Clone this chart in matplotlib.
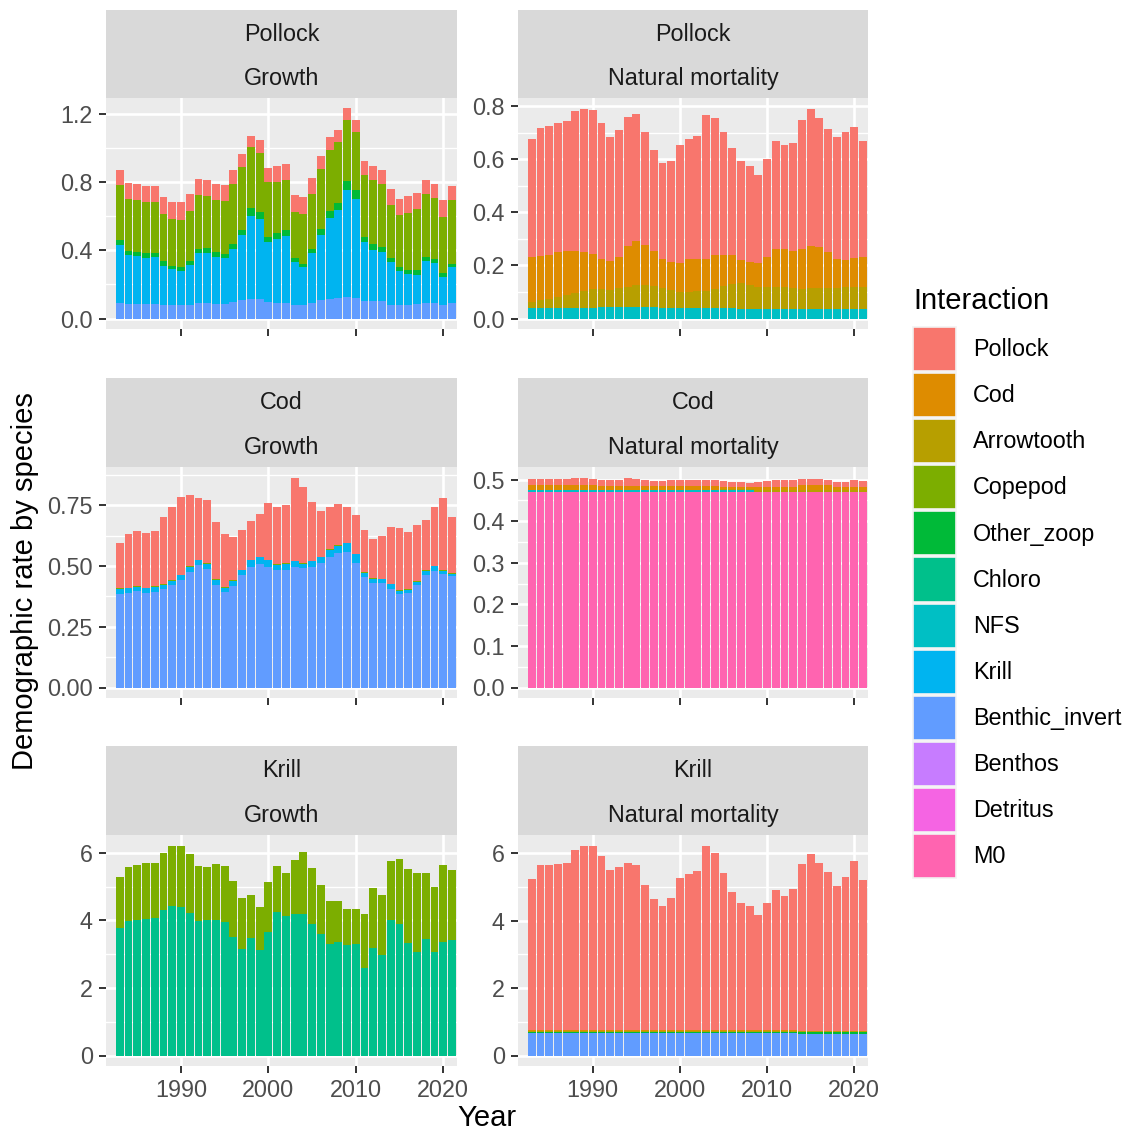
import numpy as np
import matplotlib.pyplot as plt
from matplotlib.patches import Patch

plt.rcParams['font.family'] = ['Liberation Sans', 'DejaVu Sans']

years = np.arange(1983, 2022)

interactions = ['Pollock', 'Cod', 'Arrowtooth', 'Copepod', 'Other_zoop', 'Chloro',
                'NFS', 'Krill', 'Benthic_invert', 'Benthos', 'Detritus', 'M0']
palette = ['#F8766D', '#DE8C00', '#B79F00', '#7CAE00', '#00BA38', '#00C08B',
           '#00BFC4', '#00B4F0', '#619CFF', '#C77CFF', '#F564E3', '#FF64B0']

# Pollock growth
pg_benthic_invert = [0.093, 0.087, 0.087, 0.087, 0.087, 0.077, 0.077, 0.077, 0.081, 0.093,
                     0.091, 0.087, 0.087, 0.099, 0.110, 0.116, 0.112, 0.099, 0.093, 0.093,
                     0.081, 0.081, 0.093, 0.110, 0.116, 0.120, 0.128, 0.122, 0.104, 0.104,
                     0.100, 0.081, 0.077, 0.081, 0.087, 0.093, 0.091, 0.081, 0.091]
pg_krill = [0.337, 0.284, 0.278, 0.268, 0.272, 0.234, 0.213, 0.205, 0.232, 0.290,
            0.294, 0.276, 0.268, 0.309, 0.378, 0.485, 0.473, 0.349, 0.374, 0.390,
            0.250, 0.221, 0.290, 0.382, 0.473, 0.516, 0.625, 0.581, 0.343, 0.299,
            0.288, 0.250, 0.205, 0.183, 0.171, 0.244, 0.234, 0.165, 0.211]
pg_other_zoop = [0.030, 0.028, 0.026, 0.028, 0.024, 0.024, 0.016, 0.020, 0.024, 0.028,
                 0.028, 0.026, 0.024, 0.032, 0.033, 0.047, 0.039, 0.030, 0.033, 0.035,
                 0.026, 0.020, 0.028, 0.033, 0.043, 0.045, 0.057, 0.053, 0.033, 0.033,
                 0.032, 0.026, 0.022, 0.020, 0.026, 0.024, 0.024, 0.020, 0.020]
pg_copepod = [0.325, 0.305, 0.305, 0.303, 0.303, 0.278, 0.280, 0.278, 0.296, 0.317,
              0.307, 0.305, 0.313, 0.351, 0.372, 0.359, 0.351, 0.323, 0.305, 0.296,
              0.266, 0.294, 0.323, 0.351, 0.359, 0.355, 0.359, 0.339, 0.366, 0.380,
              0.368, 0.311, 0.303, 0.337, 0.360, 0.370, 0.357, 0.331, 0.372]
pg_pollock = [0.087, 0.095, 0.095, 0.093, 0.093, 0.102, 0.099, 0.104, 0.099, 0.091,
              0.091, 0.095, 0.093, 0.083, 0.073, 0.067, 0.073, 0.085, 0.091, 0.091,
              0.104, 0.100, 0.093, 0.077, 0.073, 0.073, 0.065, 0.071, 0.081, 0.079,
              0.083, 0.093, 0.097, 0.099, 0.091, 0.083, 0.085, 0.099, 0.087]

# Pollock natural mortality
pm_nfs = [0.040, 0.040, 0.040, 0.040, 0.040, 0.040, 0.040, 0.040, 0.042, 0.042,
          0.042, 0.042, 0.042, 0.042, 0.042, 0.038, 0.038, 0.038, 0.038, 0.038,
          0.038, 0.038, 0.038, 0.038, 0.034, 0.034, 0.034, 0.034, 0.034, 0.034,
          0.034, 0.034, 0.034, 0.034, 0.034, 0.034, 0.034, 0.034, 0.034]
pm_arrowtooth = [0.021, 0.028, 0.033, 0.041, 0.050, 0.055, 0.062, 0.070, 0.069, 0.067,
                 0.072, 0.078, 0.083, 0.083, 0.079, 0.076, 0.068, 0.063, 0.063, 0.067,
                 0.067, 0.072, 0.083, 0.091, 0.099, 0.092, 0.086, 0.085, 0.084, 0.084,
                 0.080, 0.077, 0.080, 0.081, 0.080, 0.080, 0.084, 0.085, 0.084]
pm_cod = [0.170, 0.167, 0.165, 0.168, 0.165, 0.160, 0.147, 0.133, 0.114, 0.108,
          0.116, 0.154, 0.167, 0.153, 0.132, 0.112, 0.105, 0.108, 0.123, 0.120,
          0.121, 0.129, 0.120, 0.111, 0.089, 0.086, 0.089, 0.112, 0.144, 0.142,
          0.140, 0.152, 0.160, 0.154, 0.135, 0.112, 0.102, 0.109, 0.112]
pm_pollock = [0.445, 0.482, 0.486, 0.487, 0.488, 0.527, 0.542, 0.542, 0.511, 0.466,
              0.479, 0.486, 0.480, 0.424, 0.380, 0.359, 0.383, 0.445, 0.454, 0.464,
              0.539, 0.518, 0.461, 0.402, 0.370, 0.361, 0.332, 0.369, 0.405, 0.392,
              0.407, 0.483, 0.515, 0.488, 0.464, 0.457, 0.483, 0.494, 0.440]

# Cod growth
cg_benthic_invert = [0.386, 0.390, 0.398, 0.390, 0.394, 0.406, 0.422, 0.443, 0.476, 0.504,
                     0.489, 0.423, 0.394, 0.419, 0.461, 0.497, 0.507, 0.497, 0.482, 0.485,
                     0.497, 0.492, 0.497, 0.511, 0.535, 0.552, 0.556, 0.514, 0.453, 0.431,
                     0.430, 0.406, 0.383, 0.390, 0.423, 0.464, 0.481, 0.468, 0.457]
cg_krill = [0.019, 0.018, 0.015, 0.018, 0.019, 0.017, 0.017, 0.018, 0.019, 0.019,
            0.020, 0.020, 0.015, 0.019, 0.021, 0.026, 0.028, 0.026, 0.023, 0.024,
            0.022, 0.017, 0.022, 0.024, 0.030, 0.030, 0.037, 0.034, 0.019, 0.015,
            0.015, 0.018, 0.014, 0.011, 0.013, 0.015, 0.017, 0.012, 0.012]
cg_copepod = [0.003, 0.003, 0.003, 0.003, 0.003, 0.003, 0.003, 0.003, 0.003, 0.003,
              0.003, 0.003, 0.003, 0.003, 0.003, 0.003, 0.003, 0.003, 0.003, 0.003,
              0.003, 0.003, 0.003, 0.003, 0.003, 0.003, 0.003, 0.003, 0.003, 0.003,
              0.003, 0.003, 0.003, 0.003, 0.003, 0.003, 0.003, 0.003, 0.003]
cg_pollock = [0.187, 0.221, 0.228, 0.226, 0.228, 0.276, 0.302, 0.320, 0.296, 0.254,
              0.258, 0.235, 0.221, 0.180, 0.162, 0.158, 0.177, 0.232, 0.233, 0.240,
              0.342, 0.313, 0.240, 0.190, 0.173, 0.170, 0.148, 0.159, 0.174, 0.163,
              0.177, 0.235, 0.256, 0.234, 0.228, 0.207, 0.240, 0.295, 0.230]

# Cod natural mortality
cm_m0 = [0.470] * 39
cm_nfs = [0.004, 0.004, 0.004, 0.004, 0.004, 0.004, 0.004, 0.004, 0.004, 0.004,
          0.004, 0.004, 0.004, 0.004, 0.004, 0.004, 0.004, 0.004, 0.004, 0.004,
          0.004, 0.004, 0.004, 0.004, 0.004, 0.004, 0.001, 0.001, 0.001, 0.001,
          0.001, 0.001, 0.001, 0.001, 0.001, 0.001, 0.001, 0.001, 0.001]
cm_arrowtooth = [0.001, 0.001, 0.001, 0.001, 0.001, 0.001, 0.001, 0.001, 0.001, 0.001,
                 0.001, 0.001, 0.001, 0.001, 0.001, 0.001, 0.001, 0.001, 0.001, 0.001,
                 0.001, 0.001, 0.003, 0.003, 0.003, 0.003, 0.003, 0.003, 0.003, 0.003,
                 0.003, 0.003, 0.003, 0.003, 0.003, 0.003, 0.003, 0.003, 0.003]
cm_cod = [0.013, 0.013, 0.013, 0.013, 0.013, 0.013, 0.013, 0.013, 0.010, 0.010,
          0.010, 0.010, 0.010, 0.010, 0.010, 0.010, 0.010, 0.010, 0.010, 0.010,
          0.010, 0.010, 0.005, 0.005, 0.005, 0.005, 0.008, 0.008, 0.008, 0.008,
          0.008, 0.012, 0.012, 0.012, 0.012, 0.008, 0.008, 0.008, 0.008]
cm_pollock = [0.014, 0.014, 0.014, 0.014, 0.014, 0.017, 0.017, 0.014, 0.014, 0.013,
              0.014, 0.019, 0.017, 0.013, 0.011, 0.011, 0.013, 0.014, 0.014, 0.015,
              0.014, 0.014, 0.015, 0.013, 0.012, 0.010, 0.012, 0.015, 0.016, 0.016,
              0.016, 0.015, 0.016, 0.016, 0.013, 0.013, 0.013, 0.016, 0.015]

# Krill growth
kg_chloro = [3.79, 3.99, 4.02, 4.04, 4.06, 4.30, 4.43, 4.41, 4.21, 3.99,
             4.01, 4.02, 3.95, 3.51, 3.14, 3.48, 3.13, 3.67, 4.26, 4.14,
             4.20, 4.20, 3.89, 3.59, 3.30, 3.36, 3.26, 3.29, 2.59, 3.19,
             2.98, 4.01, 3.89, 3.34, 3.07, 3.44, 3.06, 3.37, 3.41]
kg_copepod = [1.50, 1.59, 1.62, 1.65, 1.63, 1.70, 1.79, 1.81, 1.77, 1.61,
              1.56, 1.64, 1.67, 1.65, 1.53, 1.28, 1.28, 1.47, 1.35, 1.28,
              1.58, 1.82, 1.65, 1.46, 1.28, 1.21, 1.07, 1.06, 1.61, 1.76,
              1.78, 1.75, 1.92, 2.17, 2.33, 1.98, 1.93, 2.28, 2.09]

# Krill natural mortality
km_benthic_invert = [0.68, 0.68, 0.68, 0.68, 0.68, 0.68, 0.68, 0.68, 0.68, 0.68,
                     0.68, 0.68, 0.68, 0.68, 0.68, 0.68, 0.68, 0.68, 0.68, 0.68,
                     0.68, 0.68, 0.68, 0.68, 0.68, 0.68, 0.68, 0.68, 0.68, 0.68,
                     0.68, 0.65, 0.65, 0.65, 0.65, 0.65, 0.65, 0.65, 0.65]
km_other_zoop = [0.03, 0.03, 0.03, 0.03, 0.03, 0.03, 0.03, 0.03, 0.03, 0.03,
                 0.03, 0.03, 0.03, 0.03, 0.03, 0.03, 0.03, 0.03, 0.03, 0.03,
                 0.03, 0.03, 0.03, 0.03, 0.03, 0.03, 0.03, 0.03, 0.03, 0.03,
                 0.03, 0.05, 0.05, 0.05, 0.05, 0.05, 0.05, 0.05, 0.05]
km_arrowtooth = [0.02] * 39
km_cod = [0.02] * 39
km_pollock = [4.50, 4.89, 4.91, 4.93, 4.96, 5.35, 5.48, 5.48, 5.16, 4.74,
              4.85, 4.95, 4.91, 4.32, 3.88, 3.68, 3.92, 4.52, 4.62, 4.72,
              5.47, 5.27, 4.66, 4.09, 3.78, 3.68, 3.41, 3.77, 4.17, 3.99,
              4.19, 4.94, 5.24, 4.96, 4.71, 4.28, 4.55, 5.03, 4.48]

panels = [
    ('Pollock', 'Growth',
     {'Pollock': pg_pollock, 'Copepod': pg_copepod, 'Other_zoop': pg_other_zoop,
      'Krill': pg_krill, 'Benthic_invert': pg_benthic_invert},
     [0, 0.4, 0.8, 1.2], ['0.0', '0.4', '0.8', '1.2']),
    ('Pollock', 'Natural mortality',
     {'Pollock': pm_pollock, 'Cod': pm_cod, 'Arrowtooth': pm_arrowtooth, 'NFS': pm_nfs},
     [0, 0.2, 0.4, 0.6, 0.8], ['0.0', '0.2', '0.4', '0.6', '0.8']),
    ('Cod', 'Growth',
     {'Pollock': cg_pollock, 'Copepod': cg_copepod, 'Krill': cg_krill,
      'Benthic_invert': cg_benthic_invert},
     [0, 0.25, 0.5, 0.75], ['0.00', '0.25', '0.50', '0.75']),
    ('Cod', 'Natural mortality',
     {'Pollock': cm_pollock, 'Cod': cm_cod, 'Arrowtooth': cm_arrowtooth,
      'NFS': cm_nfs, 'M0': cm_m0},
     [0, 0.1, 0.2, 0.3, 0.4, 0.5], ['0.0', '0.1', '0.2', '0.3', '0.4', '0.5']),
    ('Krill', 'Growth',
     {'Copepod': kg_copepod, 'Chloro': kg_chloro},
     [0, 2, 4, 6], ['0', '2', '4', '6']),
    ('Krill', 'Natural mortality',
     {'Pollock': km_pollock, 'Cod': km_cod, 'Arrowtooth': km_arrowtooth,
      'Other_zoop': km_other_zoop, 'Benthic_invert': km_benthic_invert},
     [0, 2, 4, 6], ['0', '2', '4', '6']),
]

W, H = 1126, 1132
fig = plt.figure(figsize=(W / 100, H / 100), dpi=100)


def box(x0, x1, y0, y1):
    return [x0 / W, 1 - y1 / H, (x1 - x0) / W, (y1 - y0) / H]


cols = [(106, 457), (518, 868)]
rows = [(10, 98, 329), (378, 467, 698), (746, 835, 1066)]
colour = dict(zip(interactions, palette))

for i, (species, process, series, yticks, ylabels) in enumerate(panels):
    r, c = divmod(i, 2)
    x0, x1 = cols[c]
    s0, p0, p1 = rows[r]

    ax = fig.add_axes(box(x0, x1, p0, p1))
    ax.set_facecolor('#EBEBEB')
    bottom = np.zeros(len(years))
    # ggplot stacks the first factor level on top
    for name in interactions[::-1]:
        if name not in series:
            continue
        vals = np.array(series[name])
        ax.bar(years, vals, width=0.9, bottom=bottom, color=colour[name], linewidth=0)
        bottom += vals

    top = bottom.max()
    ax.set_ylim(-0.05 * top, 1.05 * top)
    ax.set_xlim(1981.42, 2021.58)
    ax.set_xticks([1990, 2000, 2010, 2020])
    step = yticks[1] - yticks[0]
    minors = [v for v in np.arange(step / 2, 1.05 * top, step)]
    ax.set_yticks(yticks)
    ax.set_yticklabels(ylabels)
    ax.set_yticks(minors, minor=True)
    ax.grid(which='major', color='white', linewidth=1.9)
    ax.grid(which='minor', axis='y', color='white', linewidth=0.95)
    ax.set_axisbelow(True)
    for s in ax.spines.values():
        s.set_visible(False)
    ax.tick_params(which='major', length=5, width=1.4, color='#333333',
                   labelsize=16.8, labelcolor='#4D4D4D', pad=4.5)
    ax.tick_params(which='minor', length=0)
    if r < 2:
        ax.tick_params(axis='x', labelbottom=False)

    sax = fig.add_axes(box(x0, x1, s0, p0))
    sax.set_facecolor('#D9D9D9')
    sax.set_xticks([])
    sax.set_yticks([])
    for s in sax.spines.values():
        s.set_visible(False)
    sax.text(0.5, 0.722, species, ha='center', va='center', fontsize=16.8,
             color='#1A1A1A', transform=sax.transAxes)
    sax.text(0.5, 0.222, process, ha='center', va='center', fontsize=16.8,
             color='#1A1A1A', transform=sax.transAxes)

fig.text(487 / W, 1 - 1118 / H, 'Year', ha='center', va='center', fontsize=21)
fig.text(25 / W, 1 - 581 / H, 'Demographic rate by species', rotation=90,
         ha='center', va='center', fontsize=21)

# legend
fig.text(913 / W, 1 - 309 / H, 'Interaction', ha='left', va='baseline', fontsize=21)
handles = [Patch(facecolor=col, edgecolor='#F2F2F2', linewidth=1.2) for col in palette]
fig.legend(handles, interactions, loc='upper left',
           bbox_to_anchor=(913 / W, 1 - 327 / H), frameon=False,
           borderpad=0, borderaxespad=0, fontsize=16.8,
           handlelength=1.845, handleheight=2.53, handletextpad=0.73,
           labelspacing=0.086)

fig.savefig('out.png', dpi=100)
